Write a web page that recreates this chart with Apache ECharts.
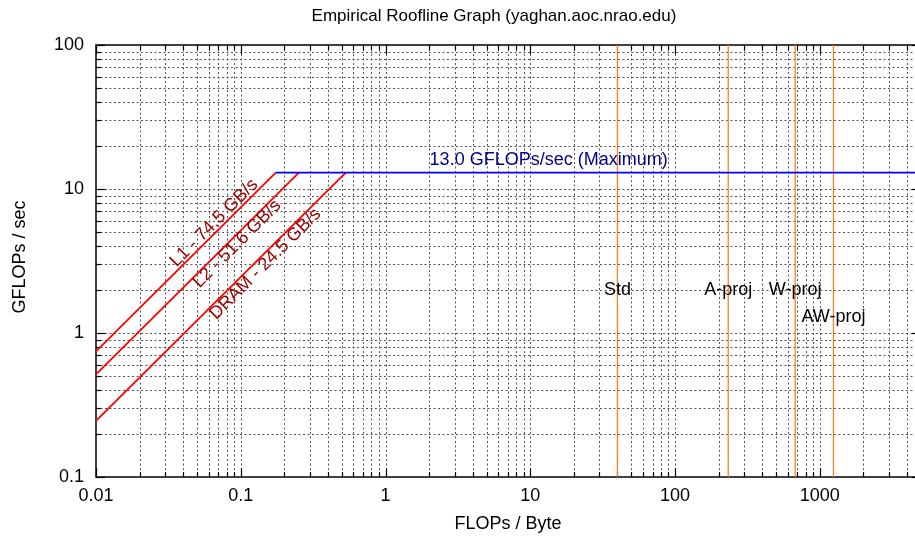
<!DOCTYPE html>
<html>
<head>
<meta charset="utf-8">
<title>Empirical Roofline Graph</title>
<script src="https://cdn.jsdelivr.net/npm/echarts@6/dist/echarts.min.js"></script>
<style>
  html, body { margin: 0; padding: 0; background: #fff; }
  #chart { width: 915px; height: 539px; }
</style>
</head>
<body>
<div id="chart"></div>
<script>
const FONT = '"Liberation Sans", Arial, sans-serif';
const FONT_SIZE = 18;

// axis ranges and tick labels
const xRange = [0.01, 5000];
const yRange = [0.1, 100];
const xTickValues = [0.01, 0.1, 1, 10, 100, 1000];
const xTickLabels = ['0.01', '0.1', '1', '10', '100', '1000'];
const yTickValues = [0.1, 1, 10, 100];
const yTickLabels = ['0.1', '1', '10', '100'];

// memory ceilings: value at x=0.01 and x where they hit the compute roof
const roofNames = ['L1 - 74.5 GB/s', 'L2 - 51.6 GB/s', 'DRAM - 24.5 GB/s'];
const roofStartY = [0.745, 0.516, 0.245];
const roofKneeX = [0.1745, 0.252, 0.531];
const roofLabelX = [0.0653, 0.0942, 0.148];
const roofLabelY = [5.81, 4.15, 3.01];

// compute roof
const peakGflops = 13.0;
const peakLabel = '13.0 GFLOPs/sec (Maximum)';
const peakLabelAt = [2, 16];

// kernels (arithmetic intensity)
const kernelNames = ['Std', 'A-proj', 'W-proj', 'AW-proj'];
const kernelIntensity = [40, 233, 676, 1243];
const kernelLabelY = [2, 2, 2, 1.3];

/**
 * Decade ticks plus 2..9 minor ticks inside the range
 */
function buildTicks(majors, max) {
    const out = [];
    majors.forEach(d => {
        out.push([d, 1]);
        for (let k = 2; k <= 9; k++) {
            const v = +(d * k).toPrecision(6);
            if (v < max) out.push([v, 0]);
        }
    });
    return out;
}

function tickFormatter(values, labels) {
    return function (v) {
        const i = values.findIndex(t => Math.abs(Math.log10(t) - Math.log10(v)) < 1e-6);
        return i < 0 ? '' : labels[i];
    };
}

const gridStyle = { stroke: '#555', lineWidth: 1, lineDash: [2, 2.5] };
const tickStyle = { stroke: '#000', lineWidth: 1.2 };

function xGridItem(params, api) {
    const cs = params.coordSys;
    const px = Math.round(api.coord([api.value(0), 1])[0]) + 0.5;
    const len = api.value(2) ? 9 : 5;
    const top = cs.y, bottom = cs.y + cs.height;
    const children = [
        { type: 'line', shape: { x1: px, y1: bottom, x2: px, y2: bottom - len }, style: tickStyle },
        { type: 'line', shape: { x1: px, y1: top, x2: px, y2: top + len }, style: tickStyle }
    ];
    if (px > cs.x + 2) {
        children.unshift({ type: 'line', shape: { x1: px, y1: top, x2: px, y2: bottom }, style: gridStyle });
    }
    return { type: 'group', children: children };
}

function yGridItem(params, api) {
    const cs = params.coordSys;
    const py = Math.round(api.coord([1, api.value(1)])[1]) + 0.5;
    const len = api.value(2) ? 9 : 5;
    const left = cs.x, right = cs.x + cs.width;
    const children = [
        { type: 'line', shape: { x1: left, y1: py, x2: left + len, y2: py }, style: tickStyle },
        { type: 'line', shape: { x1: right, y1: py, x2: right - len, y2: py }, style: tickStyle }
    ];
    if (py > cs.y + 2 && py < cs.y + cs.height - 2) {
        children.unshift({ type: 'line', shape: { x1: left, y1: py, x2: right, y2: py }, style: gridStyle });
    }
    return { type: 'group', children: children };
}

const xGridData = buildTicks(xTickValues, xRange[1]).map(t => [t[0], 1, t[1]]);
const yGridData = buildTicks(yTickValues, yRange[1] * 1.01).map(t => [1, t[0], t[1]]);

const series = [
    {
        type: 'custom', renderItem: xGridItem, data: xGridData,
        encode: { x: 0, y: 1 }, silent: true, clip: false, z: 1
    },
    {
        type: 'custom', renderItem: yGridItem, data: yGridData,
        encode: { x: 0, y: 1 }, silent: true, clip: false, z: 1
    }
];

kernelIntensity.forEach(v => {
    series.push({
        type: 'line',
        data: [[v, yRange[0]], [v, yRange[1]]],
        symbol: 'none',
        lineStyle: { color: '#ff7f24', width: 1.3 },
        silent: true,
        z: 3
    });
});

roofNames.forEach((name, i) => {
    series.push({
        type: 'line',
        data: [[xRange[0], roofStartY[i]], [roofKneeX[i], peakGflops]],
        symbol: 'none',
        lineStyle: { color: '#ff0000', width: 1.8 },
        silent: true,
        z: 5
    });
});

series.push({
    type: 'line',
    data: [[roofKneeX[0], peakGflops], [xRange[1], peakGflops]],
    symbol: 'none',
    lineStyle: { color: '#0000ff', width: 1.8 },
    silent: true,
    z: 5
});

const labelBase = { show: true, fontSize: FONT_SIZE, fontFamily: FONT, formatter: '{b}' };
const hiddenSymbol = { color: 'rgba(0,0,0,0)', opacity: 1 };

series.push({
    type: 'scatter',
    symbolSize: 1,
    itemStyle: hiddenSymbol,
    data: roofNames.map((n, i) => ({ name: n, value: [roofLabelX[i], roofLabelY[i]] })),
    label: { ...labelBase, position: 'inside', rotate: 45, color: '#960000' },
    silent: true,
    z: 6
});

series.push({
    type: 'scatter',
    symbolSize: 1,
    itemStyle: hiddenSymbol,
    data: [{ name: peakLabel, value: peakLabelAt }],
    label: { ...labelBase, position: 'right', distance: 0, color: '#00008b' },
    silent: true,
    z: 6
});

series.push({
    type: 'scatter',
    symbolSize: 1,
    itemStyle: hiddenSymbol,
    data: kernelNames.map((n, i) => ({ name: n, value: [kernelIntensity[i], kernelLabelY[i]] })),
    label: { ...labelBase, position: 'inside', color: '#000' },
    silent: true,
    z: 6
});

const chart = echarts.init(document.getElementById('chart'), null, { renderer: 'canvas' });

chart.setOption({
    animation: false,
    backgroundColor: '#fff',
    grid: {
        left: 96, top: 45, width: 825, height: 432,
        outerBoundsMode: 'none',
        show: true, borderColor: '#000', borderWidth: 1.5, backgroundColor: 'transparent'
    },
    xAxis: {
        type: 'log', logBase: 10, min: xRange[0], max: xRange[1], interval: 1,
        axisLine: { show: false }, axisTick: { show: false }, splitLine: { show: false },
        axisLabel: {
            color: '#000', fontSize: FONT_SIZE, fontFamily: FONT, margin: 10,
            showMaxLabel: false, formatter: tickFormatter(xTickValues, xTickLabels)
        }
    },
    yAxis: {
        type: 'log', logBase: 10, min: yRange[0], max: yRange[1], interval: 1,
        axisLine: { show: false }, axisTick: { show: false }, splitLine: { show: false },
        axisLabel: {
            color: '#000', fontSize: FONT_SIZE, fontFamily: FONT, margin: 12,
            formatter: tickFormatter(yTickValues, yTickLabels)
        }
    },
    graphic: [
        {
            type: 'text', x: 494, y: 16,
            style: {
                text: 'Empirical Roofline Graph (yaghan.aoc.nrao.edu)', fill: '#000',
                fontSize: 17, fontFamily: FONT, align: 'center', verticalAlign: 'middle'
            }
        },
        {
            type: 'text', x: 508, y: 524,
            style: {
                text: 'FLOPs / Byte', fill: '#000',
                fontSize: FONT_SIZE, fontFamily: FONT, align: 'center', verticalAlign: 'middle'
            }
        },
        {
            type: 'text', x: 20, y: 257, rotation: Math.PI / 2,
            style: {
                text: 'GFLOPs / sec', fill: '#000',
                fontSize: FONT_SIZE, fontFamily: FONT, align: 'center', verticalAlign: 'middle'
            }
        }
    ],
    series: series
});
</script>
</body>
</html>
